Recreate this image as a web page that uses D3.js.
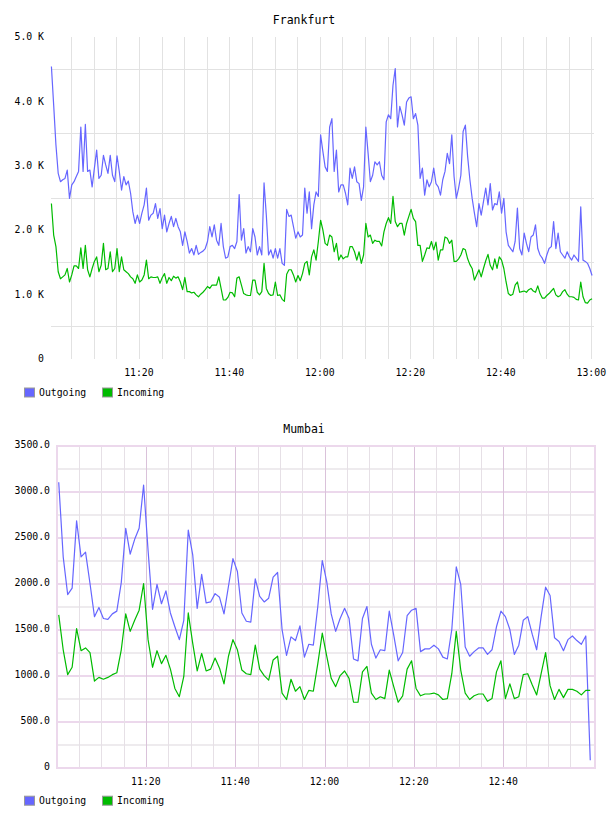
<!DOCTYPE html>
<html>
<head>
<meta charset="utf-8">
<script src="https://cdn.jsdelivr.net/npm/d3@7"></script>
<style>
  body { margin: 0; background: #fff; }
  text { font-family: "DejaVu Sans Mono", monospace; fill: #000; }
</style>
</head>
<body>
<svg id="chart" width="608" height="816"></svg>
<script>
/***********************************************************************************/
// Data

var seriesNames  = ["Outgoing", "Incoming"];
var seriesColors = ["#6666ff", "#00bb00"];
var xTickLabels  = ["11:20", "11:40", "12:00", "12:20", "12:40", "13:00"];

// Frankfurt: one sample every 30 s from 11:00:40
var frankfurtStart = "11:00:40";
var frankfurtStepSec = 30;
var frankfurtYTicks = [0, 1000, 2000, 3000, 4000, 5000];
var frankfurtOutgoing = [
  4540, 3940, 3320, 2880, 2750, 2780, 2800, 2930, 2490, 2700,
  2750, 2830, 2910, 3600, 2910, 3640, 2910, 2930, 2670, 2960,
  3240, 2800, 2850, 3160, 3010, 2880, 3160, 2850, 2750, 3150,
  2910, 2620, 2830, 2700, 2760, 2570, 2280, 2100, 2230, 2100,
  2260, 2390, 2650, 2150, 2230, 2260, 2410, 2180, 2330, 2020,
  2230, 1970, 2100, 2210, 2050, 2180, 2050, 1970, 1760, 1970,
  1820, 1640, 1710, 1610, 1760, 1620, 1650, 1670, 1710, 1820,
  2050, 1890, 2080, 1840, 1760, 2100, 1740, 1560, 1580, 1740,
  1760, 1710, 1820, 2550, 1840, 2020, 1640, 1740, 1660, 2020,
  1890, 1610, 1740, 1610, 2730, 2230, 1610, 1690, 1560, 1710,
  1560, 1710, 1480, 1450, 2320, 2210, 2230, 2050, 1870, 1970,
  1890, 1920, 2650, 2260, 2590, 2020, 2390, 2590, 2520, 3480,
  3220, 2980, 2910, 3600, 3730, 2910, 3240, 2590, 2700, 2700,
  2570, 2390, 2960, 2800, 2980, 2750, 2720, 2460, 2670, 3600,
  3190, 2750, 2850, 3060, 3010, 3060, 2850, 2780, 3680, 3790,
  3730, 4250, 4510, 3600, 3920, 3790, 3630, 3990, 4050, 4070,
  3730, 3810, 3630, 2800, 2960, 2540, 2780, 2670, 2750, 2960,
  2720, 2670, 2540, 2780, 2910, 3190, 3030, 3480, 2830, 2490,
  2650, 2850, 3530, 3630, 3140, 2780, 2490, 2260, 2050, 2410,
  2230, 2440, 2650, 2390, 2720, 2310, 2410, 2390, 2590, 2260,
  2490, 1970, 1760, 1710, 1660, 1820, 2340, 1710, 1610, 1950,
  1790, 1660, 1890, 1920, 2080, 1710, 1610, 1560, 1480, 1610,
  1710, 1740, 2130, 1710, 1950, 1660, 1610, 1560, 1660, 1580,
  1530, 1610, 1560, 1510, 2360, 1530, 1510, 1480, 1400, 1290
];
var frankfurtIncoming = [
  2410, 1920, 1740, 1350, 1240, 1270, 1300, 1400, 1190, 1300,
  1440, 1440, 1400, 1720, 1400, 1760, 1380, 1270, 1400, 1510,
  1580, 1350, 1450, 1790, 1380, 1400, 1660, 1350, 1400, 1710,
  1350, 1580, 1380, 1350, 1320, 1270, 1240, 1170, 1300, 1190,
  1220, 1300, 1530, 1240, 1270, 1260, 1260, 1270, 1170, 1260,
  1320, 1170, 1260, 1210, 1280, 1250, 1270, 1190, 1070, 1260,
  1040, 1040, 1020, 1030, 990, 960, 1000, 1030, 1070, 1120,
  1090, 1140, 1140, 1140, 1270, 1090, 910, 910, 950, 1030,
  1020, 960, 1250, 1270, 1140, 1010, 990, 980, 980, 1220,
  1220, 1030, 990, 1040, 1480, 1090, 1010, 980, 990, 1190,
  980, 990, 920, 890, 1310, 1380, 1380, 1300, 1190, 1290,
  1210, 1320, 1480, 1510, 1300, 1580, 1690, 1530, 1820, 2150,
  2000, 1790, 1760, 1920, 1890, 1660, 1790, 1530, 1610, 1550,
  1580, 1580, 1740, 1740, 1660, 1530, 1660, 1480, 1610, 2100,
  1890, 1920, 1790, 1840, 1820, 1820, 1750, 1970, 2100, 2190,
  2100, 2520, 2130, 2050, 2100, 2100, 1920, 2100, 2210, 2320,
  2180, 2130, 1760, 1760, 1510, 1610, 1720, 1710, 1820, 1690,
  1810, 1530, 1690, 1690, 1890, 1870, 1790, 1840, 1510, 1510,
  1550, 1610, 1710, 1690, 1550, 1460, 1400, 1220, 1300, 1380,
  1270, 1400, 1520, 1620, 1450, 1380, 1550, 1400, 1580, 1530,
  1400, 1190, 1010, 980, 1000, 1140, 1190, 1030, 1040, 1050,
  1030, 1070, 1090, 1050, 1030, 1130, 1010, 940, 940, 980,
  1010, 1050, 1090, 990, 960, 980, 1040, 1070, 1000, 960,
  960, 950, 920, 910, 1190, 960, 870, 860, 910, 930
];

// Mumbai: one sample a minute from 11:00:30
var mumbaiStart = "11:00:30";
var mumbaiStepSec = 60;
var mumbaiYTicks = [0, 500, 1000, 1500, 2000, 2500, 3000, 3500];
var mumbaiOutgoing = [
  3090, 2280, 1870, 1940, 2670, 2280, 2330, 1990, 1630, 1730,
  1610, 1600, 1660, 1690, 2000, 2590, 2310, 2470, 2590, 3060,
  2350, 1710, 1980, 1770, 1910, 1670, 1520, 1380, 1590, 2570,
  2300, 1720, 2090, 1780, 1790, 1880, 1840, 1660, 1960, 2260,
  2120, 1670, 1580, 1570, 2040, 1850, 1790, 1830, 2060, 2110,
  1490, 1210, 1410, 1370, 1530, 1190, 1330, 1320, 1740, 2240,
  2010, 1660, 1470, 1610, 1720, 1610, 1170, 1150, 1610, 1740,
  1330, 1180, 1270, 1260, 1690, 1430, 1150, 1240, 1640, 1700,
  1720, 1250, 1280, 1280, 1320, 1280, 1190, 1170, 1490, 2170,
  1980, 1300, 1200, 1250, 1290, 1290, 1220, 1270, 1520, 1690,
  1630, 1490, 1220, 1320, 1590, 1630, 1440, 1270, 1630, 1950,
  1860, 1400, 1360, 1260, 1380, 1420, 1370, 1330, 1420, 70
];
var mumbaiIncoming = [
  1650, 1270, 1000, 1080, 1500, 1260, 1290, 1240, 930, 970,
  950, 970, 1000, 1020, 1270, 1660, 1470, 1590, 1700, 1990,
  1380, 1080, 1260, 1120, 1210, 1060, 850, 760, 980, 1670,
  1340, 1040, 1230, 1040, 1060, 1180, 1070, 900, 1200, 1380,
  1270, 1050, 1010, 1000, 1320, 1060, 990, 940, 1160, 1200,
  800, 730, 950, 820, 870, 730, 830, 820, 1120, 1450,
  1200, 960, 870, 990, 1040, 960, 700, 700, 1030, 1090,
  800, 730, 760, 740, 1050, 870, 700, 770, 1060, 1150,
  850, 770, 790, 790, 800, 780, 730, 740, 1010, 1470,
  1050, 800, 730, 770, 790, 790, 710, 740, 1030, 1150,
  740, 900, 740, 760, 1000, 1010, 890, 780, 1010, 1240,
  880, 730, 840, 750, 840, 840, 820, 780, 830, 830
];

/***********************************************************************************/
// Helpers

var svg = d3.select('#chart');
var parseT = d3.timeParse('%H:%M:%S');
var parseHM = d3.timeParse('%H:%M');
var tStart = parseT('11:00:00'), tEnd = parseT('13:00:00');

function sampleTimes(start, stepSec, n){
  var t0 = parseT(start);
  return d3.range(n).map(function(i){ return d3.timeSecond.offset(t0, i * stepSec); });
}

/***********************************************************************************/
// Draw one panel

function drawPanel(p){
  var g = svg.append('g');
  var x = d3.scaleTime().domain([tStart, tEnd]).range(p.xRange);
  var y = d3.scaleLinear().domain([0, p.yMax]).range([p.yBottom, p.yTop]);
  var times = sampleTimes(p.start, p.step, p.out.length);
  var fiveMin = d3.timeMinute.every(5).range(parseT('11:05:00'), d3.timeSecond.offset(tEnd, 1));

  // grid
  var grid = g.append('g').attr('shape-rendering', 'crispEdges');
  if (p.style === 'plain') {
    var half = p.yTicks.slice(0, -1).map(function(v, i){ return (v + p.yTicks[i + 1]) / 2; });
    grid.selectAll('.hg').data(half).enter().append('line')
      .attr('x1', p.gridX[0]).attr('x2', p.gridX[1])
      .attr('y1', function(d){ return Math.round(y(d)) + 0.5; })
      .attr('y2', function(d){ return Math.round(y(d)) + 0.5; })
      .attr('stroke', '#e2e2e2');
    grid.selectAll('.vg').data(fiveMin).enter().append('line')
      .attr('x1', function(d){ return Math.round(x(d)) + 0.5; })
      .attr('x2', function(d){ return Math.round(x(d)) + 0.5; })
      .attr('y1', p.yTop).attr('y2', p.yBottom)
      .attr('stroke', '#e2e2e2');
  } else {
    var minorY = d3.range(250, p.yMax, 250);
    grid.selectAll('.hg').data(minorY).enter().append('line')
      .attr('x1', p.gridX[0]).attr('x2', p.gridX[1])
      .attr('y1', function(d){ return Math.round(y(d)) + 0.5; })
      .attr('y2', function(d){ return Math.round(y(d)) + 0.5; })
      .attr('stroke', function(d){ return d % 500 === 0 ? '#ecd8ec' : '#eeebee'; })
      .attr('stroke-width', 2);
    var inner = fiveMin.filter(function(d){ return d < tEnd; });
    grid.selectAll('.vg').data(inner).enter().append('line')
      .attr('x1', function(d){ return Math.round(x(d)) + 0.5; })
      .attr('x2', function(d){ return Math.round(x(d)) + 0.5; })
      .attr('y1', p.yTop).attr('y2', p.yBottom)
      .attr('stroke', function(d){ return d.getMinutes() % 20 === 0 ? '#dac2da' : '#e6e0e6'; });
    grid.append('rect')
      .attr('x', p.gridX[0] + 0.5).attr('y', Math.round(p.yTop) + 0.5)
      .attr('width', p.gridX[1] - p.gridX[0]).attr('height', Math.round(p.yBottom - p.yTop))
      .attr('fill', 'none').attr('stroke', '#ecd8ec').attr('stroke-width', 2);
  }

  // title
  g.append('text').attr('x', 304).attr('y', p.titleY).attr('dy', '0.35em')
    .attr('text-anchor', 'middle').style('font-size', '11.5px').text(p.title);

  // y labels
  g.selectAll('.yl').data(p.yTicks).enter().append('text')
    .attr('x', p.yLabelX).attr('y', function(d){ return y(d); }).attr('dy', '0.35em')
    .attr('text-anchor', 'end').style('font-size', '9.8px')
    .text(p.yFormat);

  // x labels
  g.selectAll('.xl').data(p.xLabels).enter().append('text')
    .attr('x', function(d){ return x(parseHM(d)); }).attr('y', p.xLabelY).attr('dy', '0.35em')
    .attr('text-anchor', 'middle').style('font-size', '9.8px')
    .text(function(d){ return d; });

  // lines
  [p.out, p.inc].forEach(function(vals, s){
    var line = d3.line()
      .x(function(d, i){ return x(times[i]); })
      .y(function(d){ return y(d); });
    g.append('path').datum(vals)
      .attr('d', line).attr('fill', 'none')
      .attr('stroke', seriesColors[s]).attr('stroke-width', 1.2)
      .attr('stroke-linejoin', 'round');
  });

  // legend
  var legX = [24, 102];
  seriesNames.forEach(function(name, s){
    g.append('rect').attr('x', legX[s] + 0.5).attr('y', p.legendY - 4.5)
      .attr('width', 10).attr('height', 9)
      .attr('fill', seriesColors[s]).attr('stroke', '#999');
    g.append('text').attr('x', legX[s] + 15).attr('y', p.legendY).attr('dy', '0.35em')
      .style('font-size', '9.8px').text(name);
  });
}

/***********************************************************************************/
// Panels

drawPanel({
  title: 'Frankfurt', titleY: 20, style: 'plain',
  xRange: [48.4, 591.3], gridX: [51, 594],
  yMax: 5000, yBottom: 358.5, yTop: 37, yTicks: frankfurtYTicks, yLabelX: 44,
  yFormat: function(d){ return d === 0 ? '0' : (d / 1000).toFixed(1) + ' K'; },
  xLabels: xTickLabels, xLabelY: 373,
  out: frankfurtOutgoing, inc: frankfurtIncoming,
  start: frankfurtStart, step: frankfurtStepSec, legendY: 392.5
});

drawPanel({
  title: 'Mumbai', titleY: 429, style: 'framed',
  xRange: [56.5, 592.5], gridX: [56.5, 594],
  yMax: 3500, yBottom: 766.7, yTop: 444.5, yTicks: mumbaiYTicks, yLabelX: 50,
  yFormat: function(d){ return d === 0 ? '0' : d.toFixed(1); },
  xLabels: xTickLabels.slice(0, 5), xLabelY: 781.7,
  out: mumbaiOutgoing, inc: mumbaiIncoming,
  start: mumbaiStart, step: mumbaiStepSec, legendY: 800.7
});
</script>
</body>
</html>
